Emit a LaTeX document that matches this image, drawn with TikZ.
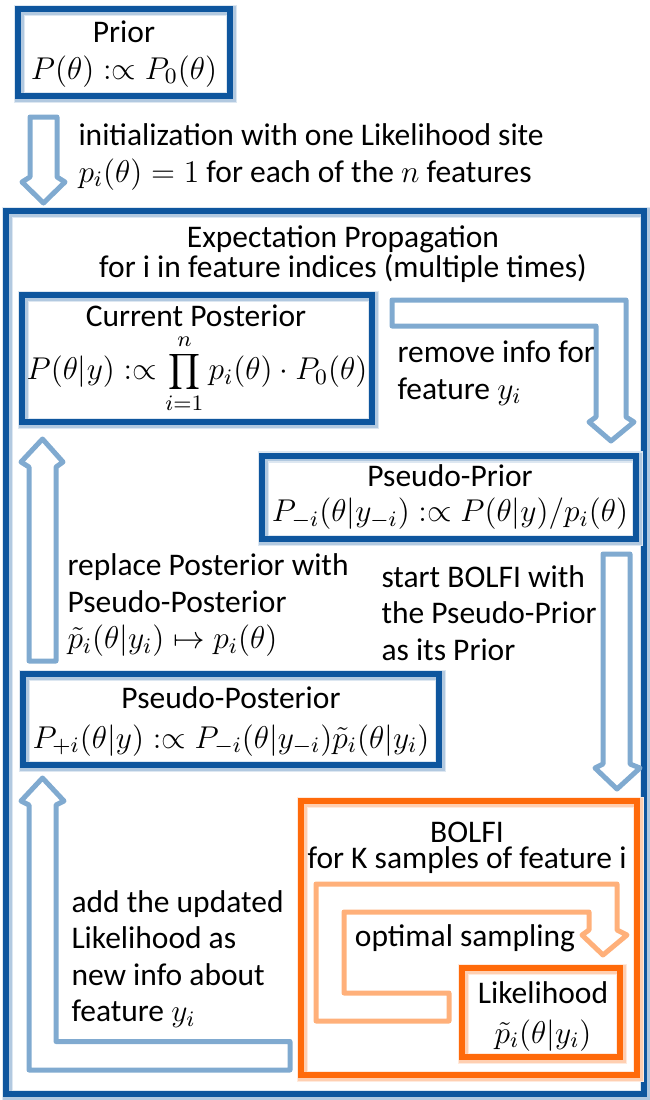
\RequirePackage{fix-cm}
\documentclass[tikz,border=0pt]{standalone}
\usepackage{fontspec}
\setmainfont{Carlito}
\usetikzlibrary{fit}
\definecolor{dblue}{RGB}{14,86,158}
\definecolor{lblue}{RGB}{128,170,208}
\definecolor{dorange}{RGB}{255,106,10}
\definecolor{lorange}{RGB}{255,176,122}
\tikzset{
  txt/.style={font=\fontsize{12.6}{14.6}\selectfont, inner sep=0pt},
  framed/.style={draw=#1, line width=2.4pt, inner sep=0pt,
    preaction={draw=#1!14, line width=4.6pt, transform canvas={shift={(0.6pt,-0.6pt)}}},
    preaction={draw=#1!32, line width=3.4pt, transform canvas={shift={(0.5pt,-0.5pt)}}}},
  box/.style={framed=dblue},
  obox/.style={framed=dorange},
  hollow/.style={draw=lblue, line width=2pt, line join=round},
  ohollow/.style={draw=lorange, line width=2pt, line join=round},
  lbl/.style={txt, anchor=west, align=left},
  ctr/.style={txt, align=center}
}
\begin{document}
\begin{tikzpicture}[x=0.4pt, y=-0.4pt]
\useasboundingbox (0,0) rectangle (649,1100);

% frames
\node[box, fit={(18,9) (230,96)}] (prior) {};
\node[ctr] (priort) at (124,54) {Prior\\ $P(\theta) :\propto P_0(\theta)$};
\node[box, fit={(6,211) (644,1094)}] (ep) {};

% initialization arrow and text
\draw[hollow] (30,117) -- (57,117) -- (57,177) -- (65,182) -- (43.5,203) -- (22,182) -- (30,177) -- cycle;
\node[lbl] (init) at (78,157) {initialization with one Likelihood site\\ $p_i(\theta)=1$ for each of the $n$ features};

% EP heading
\node[ctr] (eph) at (343,254) {Expectation Propagation\\[-2.6pt] for i in feature indices (multiple times)};

% inner boxes
\node[box, fit={(22,295) (372,422)}] (cpost) {};
\node[txt] (cpostt) at (196,316) {Current Posterior};
\node[txt] (cpostf) at (197,374) {$\displaystyle P(\theta|y) :\propto \prod_{i=1}^{n} p_i(\theta)\cdot P_0(\theta)$};

\node[box, fit={(262,455.5) (636,539)}] (pprior) {};
\node[ctr] (ppriort) at (450,497) {Pseudo-Prior\\[-0.6pt] $P_{-i}(\theta|y_{-i}) :\propto P(\theta|y)/p_i(\theta)$};

\node[box, fit={(23,674) (439,765)}] (ppost) {};
\node[ctr] (ppostt) at (231,721) {Pseudo-Posterior\\[1.4pt] $P_{+i}(\theta|y) :\propto P_{-i}(\theta|y_{-i})\tilde{p}_i(\theta|y_i)$};

% BOLFI
\node[obox, fit={(301,801) (637,1075)}] (bolfi) {};
\node[ctr] (bh) at (467,848) {BOLFI\\[-4.2pt] for K samples of feature i};
\node[obox, fit={(462,968) (620,1057)}] (lik) {};
\node[ctr] (likt) at (543,1016) {Likelihood\\[1.4pt] $\tilde{p}_i(\theta|y_i)$};
\draw[ohollow] (449,993) -- (344,993) -- (344,912) -- (589,912) -- (589,930) -- (582,935) -- (603,955) -- (627,935) -- (617,930) -- (617,884) -- (316,884) -- (316,1021) -- (449,1021) -- cycle;
\node[txt] (opt) at (465,938) {optimal sampling};

% EP arrows
\draw[hollow] (392,300) -- (626,300) -- (626,417) -- (634,422) -- (611,441) -- (589,422) -- (596,417) -- (596,326) -- (392,326) -- cycle;
\node[lbl] (remove) at (397,373) {remove info for\\ feature $y_i$};

\draw[hollow] (603,554) -- (630,554) -- (630,764) -- (640,768) -- (617,789) -- (595,768) -- (603,764) -- cycle;
\node[lbl] (start) at (381,613) {start BOLFI with\\ the Pseudo-Prior\\ as its Prior};

\draw[hollow] (29,661) -- (56,661) -- (56,467) -- (63,462) -- (42.5,439) -- (21,462) -- (29,467) -- cycle;
\node[lbl] (replace) at (67,605) {replace Posterior with\\ Pseudo-Posterior\\ $\tilde{p}_i(\theta|y_i)\mapsto p_i(\theta)$};

\draw[hollow] (290,1041.5) -- (56,1041.5) -- (56,805) -- (64,801) -- (42.5,778) -- (21,801) -- (29,805) -- (29,1070) -- (290,1070) -- cycle;
\node[lbl] (add) at (71,959) {add the updated\\ Likelihood as\\ new info about\\ feature $y_i$};
\end{tikzpicture}
\end{document}
